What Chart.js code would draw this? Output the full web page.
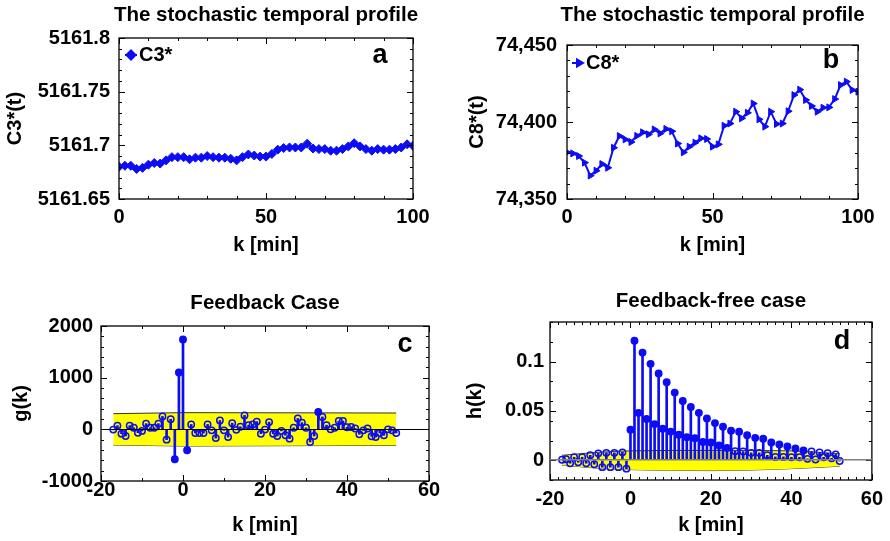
<!DOCTYPE html>
<html>
<head>
<meta charset="utf-8">
<script src="https://cdn.jsdelivr.net/npm/chart.js@4/dist/chart.umd.min.js"></script>
<style>
  html, body { margin: 0; padding: 0; background: #fff; }
  #wrap { position: relative; width: 890px; height: 541px; }
  #wrap canvas { position: absolute; left: 0; top: 0; }
</style>
</head>
<body>
<div id="wrap">
  <canvas id="pa" width="890" height="541"></canvas>
  <canvas id="pb" width="890" height="541"></canvas>
  <canvas id="pc" width="890" height="541"></canvas>
  <canvas id="pd" width="890" height="541"></canvas>
</div>
<script>
// ---- data ----
const kMinutes = [0,2,4,6,8,10,12,14,16,18,20,22,24,26,28,30,32,34,36,38,40,42,44,46,48,50,
  52,54,56,58,60,62,64,66,68,70,72,74,76,78,80,82,84,86,88,90,92,94,96,98,100];

const c3Values = [5161.680,5161.681,5161.681,5161.678,5161.679,5161.682,5161.6835,5161.683,5161.686,5161.689,
  5161.689,5161.689,5161.687,5161.6885,5161.6885,5161.690,5161.689,5161.6885,5161.6885,5161.6875,
  5161.686,5161.689,5161.6915,5161.6905,5161.6895,5161.6895,5161.692,5161.696,5161.6975,5161.698,
  5161.698,5161.698,5161.7015,5161.697,5161.6965,5161.6965,5161.695,5161.695,5161.6965,5161.699,
  5161.702,5161.699,5161.6965,5161.695,5161.6965,5161.696,5161.696,5161.6965,5161.698,5161.701,5161.6995];

const c8Values = [74380.3,74379.6,74377.9,74373.6,74365.2,74368.4,74372.7,74370.3,74383.3,74390.9,
  74388.7,74387.0,74391.0,74393.3,74392.0,74395.2,74392.6,74395.5,74394.0,74386.0,
  74380.3,74384.0,74386.6,74389.4,74389.0,74384.0,74385.5,74397.6,74399.0,74406.7,
  74402.4,74406.0,74412.0,74401.7,74397.0,74406.7,74398.7,74399.0,74407.0,74417.5,
  74421.0,74414.3,74410.4,74406.7,74409.3,74409.5,74414.9,74424.0,74426.2,74420.8,74419.7];

const lagK = [-17,-16,-15,-14,-13,-12,-11,-10,-9,-8,-7,-6,-5,-4,-3,-2,-1,0,1,2,3,4,5,6,7,8,9,10,
  11,12,13,14,15,16,17,18,19,20,21,22,23,24,25,26,27,28,29,30,31,32,33,34,35,36,37,38,39,40,
  41,42,43,44,45,46,47,48,49,50,51,52];

const gValues = [-5,70,-85,-130,70,30,-65,-30,110,30,
  30,110,250,-200,195,-580,1100,1740,-405,95,
  -70,-70,-70,95,-20,-170,170,-20,-150,120,
  -10,50,270,80,95,150,-85,-5,140,-85,
  -130,-30,-115,-180,30,210,130,30,-245,-130,
  335,240,80,0,30,160,160,40,45,15,
  -95,-20,15,-135,-150,-70,-115,0,-20,-70];

const hValues = [0.0005,0.001,-0.003,0.003,-0.002,0.003,-0.003,0.005,-0.004,0.007,
  -0.007,0.0075,-0.007,0.0075,-0.007,0.008,-0.0085,0.031,0.121,0.048,
  0.109,0.0417,0.0976,0.0366,0.0878,0.0319,0.079,0.029,0.0685,0.0258,
  0.060,0.0234,0.054,0.0224,0.048,0.0186,0.0424,0.018,0.0376,0.015,
  0.034,0.0125,0.030,0.0092,0.0288,0.0088,0.0254,0.0075,0.0227,0.0075,
  0.0217,0.005,0.018,0.0034,0.016,0.0034,0.0139,0.003,0.0119,0.003,
  0.0098,0.0014,0.0088,0.0007,0.0078,0.003,0.0071,0.002,0.0058,-0.0007];

// confidence bands (yellow)
const gBandK = [-17, 0, 52];
const gBandUpper = [303, 323, 316];
const gBandLower = [-303, -323, -310];
const hBandK = [-17, -8, 0, 20, 40, 52];
const hBandUpper = [0.005, 0.008, 0.0095, 0.0100, 0.0095, 0.0065];
const hBandLower = [-0.005, -0.008, -0.0095, -0.0105, -0.0085, -0.006];

// tick labels
const xTicksTop = [0, 50, 100];
const xTicksBottom = [-20, 0, 20, 40, 60];
const yTicksA = [5161.65, 5161.7, 5161.75, 5161.8];
const yTicksB = [74350, 74400, 74450];
const yTicksC = [-1000, 0, 1000, 2000];
const yTicksD = [0, 0.05, 0.1];

// ---- styling ----
const BLUE = 'rgb(12,12,245)';
const FONT = '"Liberation Sans", Arial, Helvetica, sans-serif';
const bold = (size) => ({ family: FONT, size: size, weight: 'bold' });

const pts = (xs, ys) => xs.map((x, i) => ({ x: x, y: ys[i] }));

// frame with inward ticks, panel title, letter and legend
const frame = {
  id: 'frame',
  afterDatasetsDraw(chart, args, o) {
    const ctx = chart.ctx, a = chart.chartArea;
    const xs = chart.scales.x, ys = chart.scales.y;
    ctx.save();
    ctx.strokeStyle = '#000';
    ctx.lineWidth = 1;
    const marks = (scale, step, len, horiz) => {
      const first = Math.ceil(scale.min / step - 1e-6) * step;
      for (let v = first; v <= scale.max + step * 1e-6; v += step) {
        const p = Math.round(scale.getPixelForValue(v)) + 0.5;
        ctx.beginPath();
        if (horiz) {
          ctx.moveTo(p, a.bottom); ctx.lineTo(p, a.bottom - len);
          ctx.moveTo(p, a.top); ctx.lineTo(p, a.top + len);
        } else {
          ctx.moveTo(a.left, p); ctx.lineTo(a.left + len, p);
          ctx.moveTo(a.right, p); ctx.lineTo(a.right - len, p);
        }
        ctx.stroke();
      }
    };
    marks(xs, o.xMinor, 3, true);
    marks(xs, o.xMajor, 6, true);
    marks(ys, o.yMinor, 3, false);
    marks(ys, o.yMajor, 6, false);
    ctx.lineWidth = 1.3;
    ctx.strokeRect(a.left, a.top, a.width, a.height);

    ctx.fillStyle = '#000';
    ctx.textAlign = 'center';
    ctx.textBaseline = 'middle';
    ctx.font = 'bold 20.5px ' + FONT;
    ctx.fillText(o.title, (a.left + a.right) / 2, o.titleY);

    ctx.textBaseline = 'alphabetic';
    ctx.font = 'bold 27px ' + FONT;
    ctx.fillText(o.letter, o.letterX, o.letterY);

    if (o.legend) {
      const lg = o.legend;
      const ds = chart.data.datasets[0];
      ctx.strokeStyle = BLUE;
      ctx.lineWidth = 2;
      ctx.beginPath();
      ctx.moveTo(lg.x1, lg.y); ctx.lineTo(lg.x2, lg.y);
      ctx.stroke();
      ctx.fillStyle = BLUE;
      Chart.helpers.drawPoint(ctx, {
        pointStyle: ds.pointStyle, rotation: ds.pointRotation || 0,
        radius: ds.pointRadius, borderWidth: 1
      }, lg.mx, lg.y);
      ctx.fillStyle = '#000';
      ctx.textAlign = 'left';
      ctx.textBaseline = 'middle';
      ctx.font = 'bold 20px ' + FONT;
      ctx.fillText(ds.label, lg.tx, lg.y);
    }
    ctx.restore();
  }
};

function xAxis(min, max, ticks, tickPad, titlePad, h) {
  return {
    type: 'linear', min: min, max: max, offset: false,
    grid: { display: false, drawTicks: false },
    border: { display: false },
    afterBuildTicks: (s) => { s.ticks = ticks.map((v) => ({ value: v })); },
    afterFit: (s) => { s.height = h; },
    ticks: { color: '#000', font: bold(20), padding: tickPad, maxRotation: 0, autoSkip: false,
      callback: (v) => String(v) },
    title: { display: true, text: 'k [min]', color: '#000', font: bold(20),
      padding: { top: 0, bottom: titlePad } }
  };
}

function yAxis(min, max, ticks, fmt, label, tickPad, titlePad, w, zeroColor) {
  return {
    type: 'linear', min: min, max: max,
    grid: {
      display: !!zeroColor, drawTicks: false, z: 1,
      color: (c) => (c.tick && c.tick.value === 0 && zeroColor) ? zeroColor : 'rgba(0,0,0,0)',
      lineWidth: zeroColor === '#808080' ? 1.6 : 1
    },
    border: { display: false },
    afterBuildTicks: (s) => { s.ticks = ticks.map((v) => ({ value: v })); },
    afterFit: (s) => { s.width = w; },
    ticks: { color: '#000', font: bold(20), padding: tickPad, autoSkip: false, callback: fmt },
    title: { display: true, text: label, color: '#000', font: bold(20),
      padding: { top: titlePad, bottom: 0 } }
  };
}

const common = {
  responsive: false,
  animation: false,
  events: [],
  plugins: { legend: { display: false }, tooltip: { enabled: false } }
};

// panel a
new Chart(document.getElementById('pa'), {
  type: 'line',
  data: {
    datasets: [{
      label: 'C3*',
      data: pts(kMinutes, c3Values),
      borderColor: BLUE, backgroundColor: BLUE, borderWidth: 2.2,
      pointStyle: 'rectRot', pointRadius: 4.5, pointBorderWidth: 1,
      pointBackgroundColor: BLUE, pointBorderColor: BLUE
    }]
  },
  options: Object.assign({}, common, {
    layout: { padding: { left: 0, top: 38, right: 477, bottom: 271 } },
    scales: {
      x: xAxis(0, 100, xTicksTop, 6, 13, 71),
      y: yAxis(5161.65, 5161.8, yTicksA, (v) => String(v), 'C3*(t)', 9, 3, 119, null)
    },
    plugins: Object.assign({}, common.plugins, {
      frame: { title: 'The stochastic temporal profile', titleY: 15, letter: 'a', letterX: 380, letterY: 63,
        xMajor: 50, xMinor: 10, yMajor: 0.05, yMinor: 0.01,
        legend: { x1: 125, x2: 137, mx: 131, y: 55, tx: 139 } }
    })
  }),
  plugins: [frame]
});

// panel b
new Chart(document.getElementById('pb'), {
  type: 'line',
  data: {
    datasets: [{
      label: 'C8*',
      data: pts(kMinutes, c8Values),
      borderColor: BLUE, backgroundColor: BLUE, borderWidth: 2,
      pointStyle: 'triangle', pointRotation: 90, pointRadius: 4, pointBorderWidth: 1,
      pointBackgroundColor: BLUE, pointBorderColor: BLUE
    }]
  },
  options: Object.assign({}, common, {
    layout: { padding: { left: 440, top: 45, right: 32, bottom: 271 } },
    scales: {
      x: xAxis(0, 100, xTicksTop, 6, 13, 71),
      y: yAxis(74350, 74450, yTicksB, (v) => v.toLocaleString('en-US'), 'C8*(t)', 10, 25, 127, null)
    },
    plugins: Object.assign({}, common.plugins, {
      frame: { title: 'The stochastic temporal profile', titleY: 15, letter: 'b', letterX: 831, letterY: 68,
        xMajor: 50, xMinor: 10, yMajor: 50, yMinor: 10,
        legend: { x1: 572, x2: 583, mx: 579, y: 63, tx: 586 } }
    })
  }),
  plugins: [frame]
});

function stemDatasets(values, limitUp, limitDown, bandK, bandUp, bandLow, smooth) {
  return [
    { type: 'line', data: pts(bandK, bandUp), fill: '+1', backgroundColor: '#ffff00',
      borderColor: '#333', borderWidth: 1, pointRadius: 0, showLine: true,
      cubicInterpolationMode: smooth ? 'monotone' : 'default', order: 10 },
    { type: 'line', data: pts(bandK, bandLow), fill: false,
      borderColor: '#333', borderWidth: 1, pointRadius: 0, showLine: true,
      cubicInterpolationMode: smooth ? 'monotone' : 'default', order: 10 },
    { type: 'bar', data: pts(lagK, values), backgroundColor: BLUE, barThickness: 2, order: 5 },
    { type: 'line', data: pts(lagK, values), showLine: false, order: 1,
      pointRadius: 3.2, pointBorderWidth: 1.5, pointBorderColor: BLUE,
      pointBackgroundColor: (c) => (c.raw && (c.raw.y > limitUp || c.raw.y < limitDown)) ? BLUE : 'rgba(0,0,0,0)' }
  ];
}

// panel c
new Chart(document.getElementById('pc'), {
  type: 'line',
  data: { datasets: stemDatasets(gValues, 310, -310, gBandK, gBandUpper, gBandLower, false) },
  options: Object.assign({}, common, {
    layout: { padding: { left: 0, top: 326, right: 461, bottom: 0 } },
    scales: {
      x: xAxis(-20, 60, xTicksBottom, -3, 4, 60),
      y: yAxis(-1000, 2000, yTicksC, (v) => String(v), 'g(k)', 8, 9, 101, '#000')
    },
    plugins: Object.assign({}, common.plugins, {
      frame: { title: 'Feedback Case', titleY: 303, letter: 'c', letterX: 405, letterY: 352,
        xMajor: 20, xMinor: 10, yMajor: 1000, yMinor: 200 }
    })
  }),
  plugins: [frame]
});

// panel d
new Chart(document.getElementById('pd'), {
  type: 'line',
  data: { datasets: stemDatasets(hValues, 0.0095, -0.0095, hBandK, hBandUpper, hBandLower, true) },
  options: Object.assign({}, common, {
    layout: { padding: { left: 440, top: 322, right: 14, bottom: 0 } },
    scales: {
      x: xAxis(-20, 60, xTicksBottom, 7, 4, 61),
      y: yAxis(-0.02, 0.14, yTicksD, (v) => String(v), 'h(k)', 6, 23, 110, '#808080')
    },
    plugins: Object.assign({}, common.plugins, {
      frame: { title: 'Feedback-free case', titleY: 301, letter: 'd', letterX: 842, letterY: 349,
        xMajor: 20, xMinor: 2, yMajor: 0.05, yMinor: 0.02 }
    })
  }),
  plugins: [frame]
});
</script>
</body>
</html>
